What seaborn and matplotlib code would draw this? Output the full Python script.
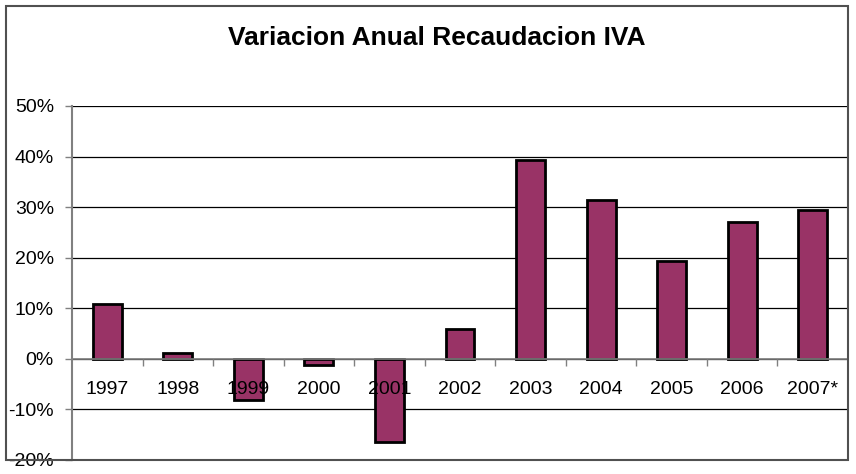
import matplotlib.pyplot as plt
import numpy as np
import pandas as pd
import seaborn as sns
from matplotlib.patches import Rectangle
from matplotlib.ticker import FuncFormatter

years = ['1997', '1998', '1999', '2000', '2001', '2002',
         '2003', '2004', '2005', '2006', '2007*']
variacion = [0.108, 0.011, -0.082, -0.013, -0.164, 0.059,
             0.393, 0.314, 0.193, 0.271, 0.295]
y_ticks = [-0.2, -0.1, 0.0, 0.1, 0.2, 0.3, 0.4, 0.5]

df = pd.DataFrame({'Year': years, 'Variacion': variacion})

sns.set_style('white')
plt.rcParams['font.family'] = ['Liberation Sans', 'DejaVu Sans']
plt.rcParams['text.color'] = 'black'
plt.rcParams['xtick.labelcolor'] = 'black'
plt.rcParams['ytick.labelcolor'] = 'black'

fig = plt.figure(figsize=(8.56, 4.74), dpi=100)
ax = fig.add_axes([72 / 856, 1 - 460 / 474, (848 - 72) / 856, (460 - 106) / 474])

sns.barplot(data=df, x='Year', y='Variacion', color='#993366', saturation=1,
            edgecolor='black', linewidth=2, width=0.41, ax=ax)

ax.set_ylim(-0.2, 0.5)
ax.set_xlim(-0.5, len(years) - 0.5)
ax.set_yticks(y_ticks)
ax.yaxis.set_major_formatter(FuncFormatter(lambda v, p: f'{v * 100:.0f}%'))
ax.yaxis.grid(True, color='black', linewidth=0.9)
ax.set_axisbelow(True)
ax.tick_params(axis='y', left=True, length=5, width=1, color='#808080',
               labelsize=14, labelcolor='black', pad=8)

# category axis sits on the 0% line, labels below it and over the bars
ax.spines['bottom'].set_position(('data', 0))
ax.spines['bottom'].set_color('#808080')
ax.spines['bottom'].set_linewidth(1.2)
ax.set_xticks(np.arange(len(years)))
ax.set_xticklabels(years)
ax.set_xticks(np.arange(len(years) - 1) + 0.5, minor=True)
ax.tick_params(axis='x', which='major', length=0, labelsize=14, labelcolor='black', pad=16)
ax.tick_params(axis='x', which='minor', bottom=True, length=5, width=1, color='#808080')
ax.xaxis.set_zorder(3)

ax.spines['left'].set_color('#808080')
ax.spines['left'].set_linewidth(1.5)
ax.spines['top'].set_visible(False)
ax.spines['right'].set_visible(False)
ax.set_xlabel('')
ax.set_ylabel('')

fig.text(437 / 856, 1 - 38 / 474, 'Variacion Anual Recaudacion IVA',
         ha='center', va='center', fontsize=19, fontweight='bold', color='black')

# chart border
fig.patches.append(Rectangle((5.5 / 856, 1 - 460 / 474), (848 - 5.5) / 856, (460 - 5.5) / 474,
                             transform=fig.transFigure, fill=False,
                             edgecolor='#505050', linewidth=1.5))

fig.savefig('out.png', dpi=100)
